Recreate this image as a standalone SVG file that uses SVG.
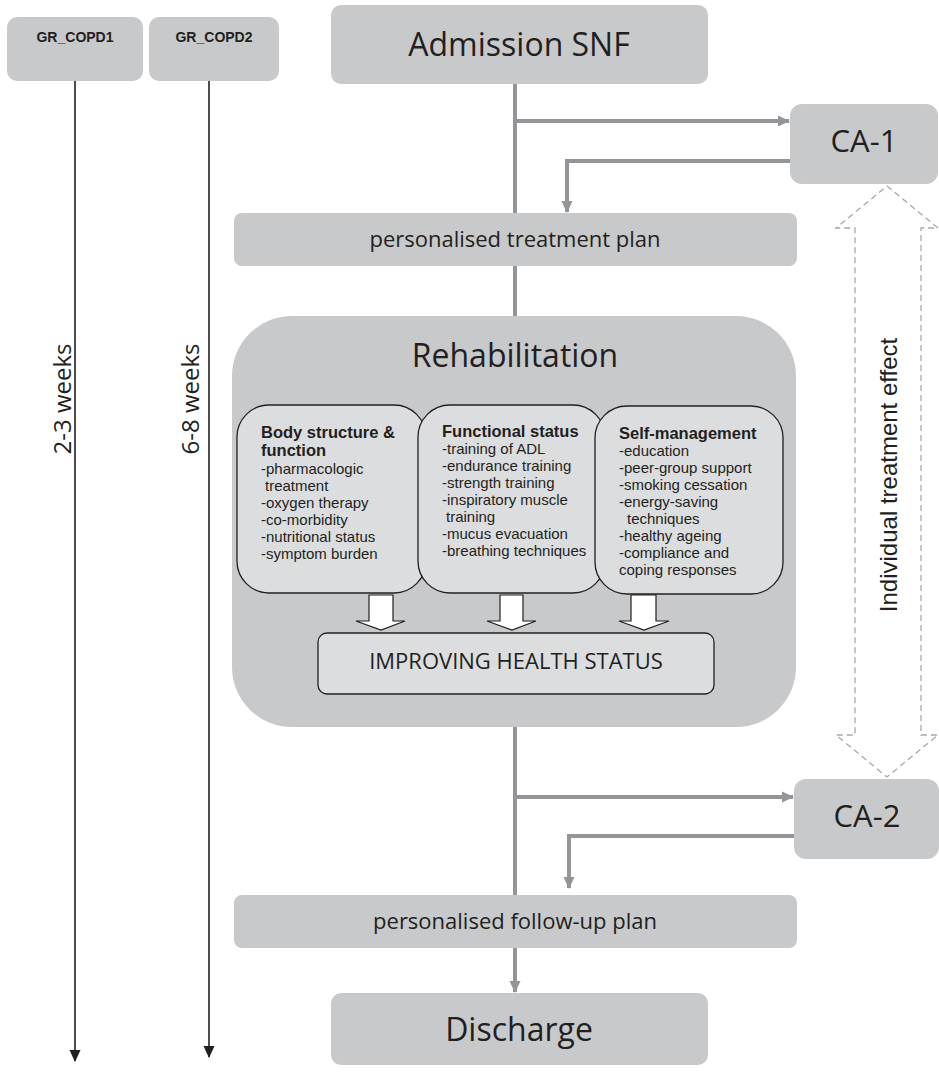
<svg xmlns="http://www.w3.org/2000/svg" width="939" height="1072" viewBox="0 0 939 1072">
<style>
.box{fill:#c8c9cb;stroke:none}
.sub{fill:#dcdddf;stroke:#231f20;stroke-width:1.3}
.cal{font-family:"Open Sans","Noto Sans",sans-serif;fill:#231f20}
.ar{font-family:"Liberation Sans",Arial,sans-serif;fill:#231f20}
.hd{font-family:"Liberation Sans",Arial,sans-serif;font-weight:bold;font-size:16.5px;fill:#231f20}
.it{font-family:"Liberation Sans",Arial,sans-serif;font-size:15px;fill:#231f20}
.flow{stroke:#939598;stroke-width:4;fill:none}
.tl{stroke:#231f20;stroke-width:1.6;fill:none}
</style>
<defs>
<marker id="ga" viewBox="0 0 12 12" refX="11" refY="6" markerWidth="12" markerHeight="12" markerUnits="userSpaceOnUse" orient="auto"><path d="M0,0.5 L12,6 L0,11.5 z" fill="#939598"/></marker>
<marker id="ba" viewBox="0 0 12 12" refX="11" refY="6" markerWidth="12" markerHeight="12" markerUnits="userSpaceOnUse" orient="auto"><path d="M0,0.5 L12,6 L0,11.5 z" fill="#231f20"/></marker>
</defs>

<g id="connectors">
<line class="tl" x1="75" y1="81" x2="75" y2="1061" marker-end="url(#ba)"/>
<line class="tl" x1="209" y1="81" x2="209" y2="1057" marker-end="url(#ba)"/>
<line class="flow" x1="515" y1="84" x2="515" y2="214"/>
<line class="flow" x1="515" y1="266" x2="515" y2="316"/>
<line class="flow" x1="515" y1="727" x2="515" y2="895"/>
<line class="flow" x1="515" y1="948" x2="515" y2="992" marker-end="url(#ga)"/>
<line class="flow" x1="515" y1="121" x2="789" y2="121" marker-end="url(#ga)"/>
<polyline class="flow" points="790,161 567,161 567,212" marker-end="url(#ga)"/>
<line class="flow" x1="515" y1="797" x2="793" y2="797" marker-end="url(#ga)"/>
<polyline class="flow" points="794,836 569,836 569,888" marker-end="url(#ga)"/>
<polygon points="887,186 938,228 921,228 921,735 938,735 887,777 836,735 855,735 855,228 836,228" fill="none" stroke="#a7a9ab" stroke-width="1.3" stroke-dasharray="6,4"/>
</g>

<g id="gr_copd1"><rect class="box" x="7" y="17" width="136" height="64" rx="10"/><text class="ar" x="75" y="42" font-size="14" font-weight="bold" text-anchor="middle">GR_COPD1</text></g>
<g id="gr_copd2"><rect class="box" x="149" y="17" width="130" height="64" rx="10"/><text class="ar" x="214" y="42" font-size="14" font-weight="bold" text-anchor="middle">GR_COPD2</text></g>
<g id="weeks1"><text class="cal" font-size="24" text-anchor="middle" transform="translate(71,399) rotate(-90)">2-3 weeks</text></g>
<g id="weeks2"><text class="cal" font-size="24" text-anchor="middle" transform="translate(199,399) rotate(-90)">6-8 weeks</text></g>

<g id="admission"><rect class="box" x="331" y="5" width="377" height="79" rx="10"/><text class="cal" x="519" y="56" font-size="32" text-anchor="middle">Admission SNF</text></g>
<g id="ca1"><rect class="box" x="790" y="104" width="148" height="80" rx="12"/><text class="cal" x="864" y="152" font-size="31" text-anchor="middle">CA-1</text></g>
<g id="plan1"><rect class="box" x="234" y="213" width="563" height="53" rx="8"/><text class="cal" x="515" y="247" font-size="22" text-anchor="middle">personalised treatment plan</text></g>

<g id="rehab">
<rect class="box" x="232" y="316" width="564" height="411" rx="60"/>
<text class="cal" x="515" y="367" font-size="32" text-anchor="middle">Rehabilitation</text>
</g>
<g id="body">
<rect class="sub" x="237" y="405" width="189" height="188" rx="32"/>
<text class="hd" x="261" y="438">Body structure &amp;</text>
<text class="hd" x="261" y="456">function</text>
<text class="it" x="261" y="474">-pharmacologic</text>
<text class="it" x="265" y="491">treatment</text>
<text class="it" x="261" y="508">-oxygen therapy</text>
<text class="it" x="261" y="525">-co-morbidity</text>
<text class="it" x="261" y="542">-nutritional status</text>
<text class="it" x="261" y="559">-symptom burden</text>
</g>
<g id="functional">
<rect class="sub" x="418" y="405" width="187" height="188" rx="32"/>
<text class="hd" x="442" y="437">Functional status</text>
<text class="it" x="442" y="454">-training of ADL</text>
<text class="it" x="442" y="471">-endurance training</text>
<text class="it" x="442" y="488">-strength training</text>
<text class="it" x="442" y="505">-inspiratory muscle</text>
<text class="it" x="446" y="522">training</text>
<text class="it" x="442" y="539">-mucus evacuation</text>
<text class="it" x="442" y="556">-breathing techniques</text>
</g>
<g id="selfmgmt">
<rect class="sub" x="595" y="406" width="188" height="188" rx="32"/>
<text class="hd" x="619" y="439">Self-management</text>
<text class="it" x="619" y="456">-education</text>
<text class="it" x="619" y="473">-peer-group support</text>
<text class="it" x="619" y="490">-smoking cessation</text>
<text class="it" x="619" y="507">-energy-saving</text>
<text class="it" x="627" y="524">techniques</text>
<text class="it" x="619" y="541">-healthy ageing</text>
<text class="it" x="619" y="558">-compliance and</text>
<text class="it" x="619" y="575">coping responses</text>
</g>
<g id="block-arrows" fill="#ffffff" stroke="#231f20" stroke-width="1.2">
<polygon points="369,595 393,595 393,621 405,621 381,630 356,621 369,621"/>
<polygon points="500,595 523,595 523,621 536,621 512,630 487,621 500,621"/>
<polygon points="631,595 656,595 656,621 669,621 644,630 619,621 631,621"/>
</g>
<g id="improving"><rect class="sub" x="318" y="633" width="396" height="61" rx="9"/><text class="cal" x="516" y="669" font-size="22" text-anchor="middle">IMPROVING HEALTH STATUS</text></g>

<g id="ca2"><rect class="box" x="794" y="779" width="145" height="80" rx="12"/><text class="cal" x="867" y="827" font-size="31" text-anchor="middle">CA-2</text></g>
<g id="effect"><text class="ar" font-size="24" text-anchor="middle" transform="translate(897,475) rotate(-90)">Individual treatment effect</text></g>
<g id="plan2"><rect class="box" x="234" y="895" width="563" height="53" rx="8"/><text class="cal" x="515" y="929" font-size="22" text-anchor="middle">personalised follow-up plan</text></g>
<g id="discharge"><rect class="box" x="331" y="993" width="377" height="72" rx="10"/><text class="cal" x="519" y="1041" font-size="32" text-anchor="middle">Discharge</text></g>
</svg>
